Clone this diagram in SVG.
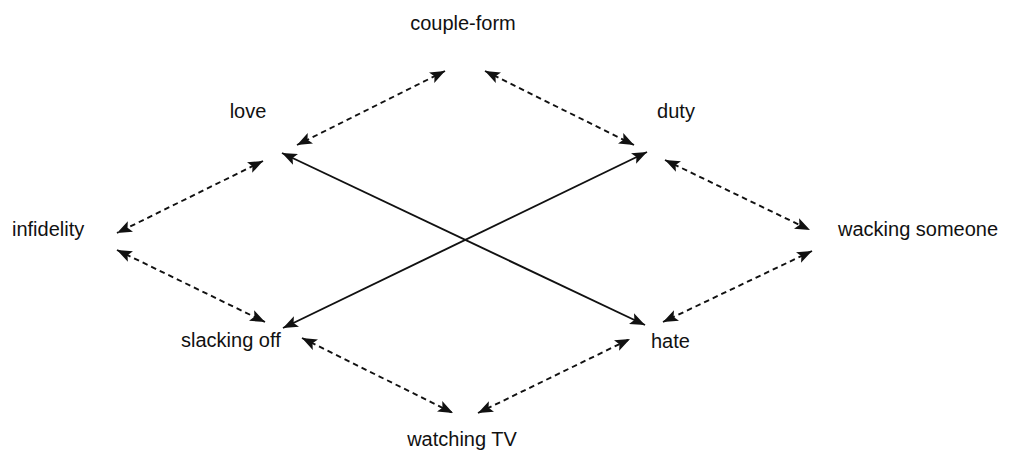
<svg xmlns="http://www.w3.org/2000/svg" width="1010" height="451" viewBox="0 0 1010 451">
<style>
text{font-family:"Liberation Sans",Arial,sans-serif;font-size:20px;fill:#111}
.c line{stroke:#111;stroke-width:1.9;fill:none}
.c .d{stroke-dasharray:5.5 4}
</style>
<defs>
<marker id="ah" markerUnits="userSpaceOnUse" markerWidth="16" markerHeight="12" refX="14" refY="5.5" orient="auto-start-reverse" viewBox="0 0 15 11">
<path d="M0,0 L14,5.5 L0,11 L3,5.5 z" fill="#111" stroke="none"/>
</marker>
</defs>
<rect width="1010" height="451" fill="#fff"/>
<g id="connectors" class="c">
<line class="d" x1="445" y1="71" x2="297" y2="145" marker-start="url(#ah)" marker-end="url(#ah)"/>
<line class="d" x1="485" y1="71" x2="634" y2="145" marker-start="url(#ah)" marker-end="url(#ah)"/>
<line x1="282" y1="153" x2="645" y2="325" marker-start="url(#ah)" marker-end="url(#ah)"/>
<line x1="647" y1="152" x2="283" y2="328" marker-start="url(#ah)" marker-end="url(#ah)"/>
<line class="d" x1="263" y1="161" x2="117" y2="233" marker-start="url(#ah)" marker-end="url(#ah)"/>
<line class="d" x1="117" y1="250" x2="265" y2="322" marker-start="url(#ah)" marker-end="url(#ah)"/>
<line class="d" x1="302" y1="338" x2="453" y2="413" marker-start="url(#ah)" marker-end="url(#ah)"/>
<line class="d" x1="478" y1="413" x2="630" y2="339" marker-start="url(#ah)" marker-end="url(#ah)"/>
<line class="d" x1="665" y1="160" x2="810" y2="230" marker-start="url(#ah)" marker-end="url(#ah)"/>
<line class="d" x1="812" y1="251" x2="663" y2="322" marker-start="url(#ah)" marker-end="url(#ah)"/>
</g>
<g id="couple-form"><text x="463" y="30" text-anchor="middle">couple-form</text></g>
<g id="love"><text x="248" y="118" text-anchor="middle">love</text></g>
<g id="duty"><text x="676" y="118" text-anchor="middle">duty</text></g>
<g id="infidelity"><text x="12" y="236">infidelity</text></g>
<g id="wacking-someone"><text x="838" y="236">wacking someone</text></g>
<g id="slacking-off"><text x="181" y="347">slacking off</text></g>
<g id="hate"><text x="651" y="348">hate</text></g>
<g id="watching-tv"><text x="462" y="446" text-anchor="middle">watching TV</text></g>
</svg>
